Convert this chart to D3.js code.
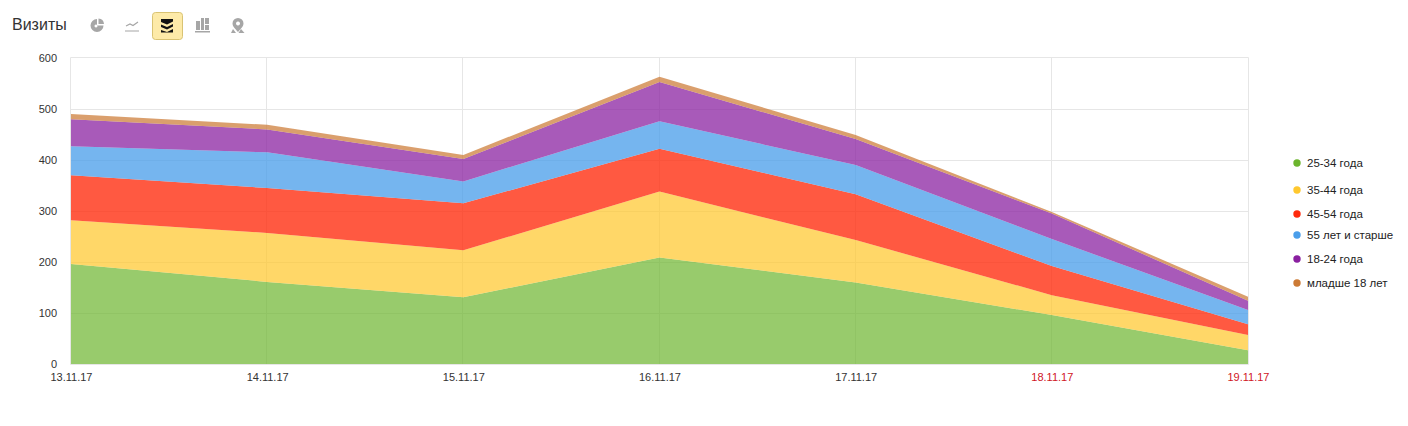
<!DOCTYPE html>
<html><head><meta charset="utf-8">
<script src="https://cdn.jsdelivr.net/npm/d3@7/dist/d3.min.js"></script>
<style>html,body{margin:0;padding:0;background:#fff}svg{display:block}text{font-family:"Liberation Sans",Arial,sans-serif}</style>
</head><body><svg id="c" width="1408" height="426"></svg>
<script>
const dates=["13.11.17","14.11.17","15.11.17","16.11.17","17.11.17","18.11.17","19.11.17"];
const weekend=["18.11.17","19.11.17"];
const yTicks=[0,100,200,300,400,500,600];
const seriesNames=["25-34 года","35-44 года","45-54 года","55 лет и старше","18-24 года","младше 18 лет"];
const s2534=[196,161,131,209,160,96,27];
const s3544=[86,96,92,129,83,39,30];
const s4554=[88,88,92,84,90,57,21];
const s55=[57,70,43,54,57,53,28];
const s1824=[53,45,44,77,51,50,18];
const s18=[10,9,8,10,8,3,8];
const colors=["#6cb52d","#ffc82e","#ff2a0c","#4a9eea","#8a20a0","#cc7a35"];
const areaOpacity=[.7,.72,.78,.76,.74,.72];
const legendY=[163,190,214,235,259,283];

const svg=d3.select("#c");
const x=d3.scalePoint().domain(dates).range([71,1248]);
const y=d3.scaleLinear().domain([0,600]).range([364,58]);
const grid="#e6e6e6";
const g=svg.append("g");
const hPos=d=>d===600?57.5:Math.round(y(d))+.5;
const vPos=d=>d===dates[dates.length-1]?1248.5:Math.round(x(d))-.5;
g.selectAll(".h").data(yTicks).join("line").attr("x1",70.5).attr("x2",1248.5)
 .attr("y1",hPos).attr("y2",hPos).attr("stroke",grid);
g.selectAll(".v").data(dates).join("line").attr("y1",57.5).attr("y2",364.5)
 .attr("x1",vPos).attr("x2",vPos).attr("stroke",grid);
const all=[s2534,s3544,s4554,s55,s1824,s18];
const rows=dates.map((d,i)=>{const r={date:d};seriesNames.forEach((n,k)=>r[n]=all[k][i]);return r;});
const stack=d3.stack().keys(seriesNames)(rows);
const area=d3.area().x(d=>x(d.data.date)).y0(d=>y(d[0])).y1(d=>y(d[1]));
g.selectAll(".a").data(stack).join("path").attr("d",area)
 .attr("fill",(d,i)=>colors[i]).attr("fill-opacity",(d,i)=>areaOpacity[i]);
g.selectAll(".yl").data(yTicks).join("text").attr("x",57).attr("y",d=>y(d)+4)
 .attr("text-anchor","end").attr("font-size",11).attr("fill","#333").text(d=>d);
g.selectAll(".xl").data(dates).join("text").attr("x",d=>x(d)+.5).attr("y",381)
 .attr("text-anchor","middle").attr("font-size",11)
 .attr("fill",d=>weekend.includes(d)?"#d0151f":"#333").text(d=>d);
const lg=g.selectAll(".l").data(seriesNames).join("g").attr("transform",(d,i)=>`translate(0,${legendY[i]})`);
lg.append("circle").attr("cx",1297).attr("cy",0).attr("r",3.7).attr("fill",(d,i)=>colors[i]);
lg.append("text").attr("x",1307).attr("y",4).attr("font-size",11.5).attr("fill","#222").text(d=>d);
svg.append("text").attr("x",12).attr("y",30).attr("font-size",16).attr("fill","#333").text("Визиты");
svg.append("rect").attr("x",152.5).attr("y",12.5).attr("width",30).attr("height",27).attr("rx",3)
 .attr("fill","#fdeaa8").attr("stroke","#d9c373");
const ic="#a6a6a6";
svg.append("path").attr("fill",ic).attr("fill-rule","evenodd")
 .attr("d","M97 19a6.5 6.5 0 1 0 6.5 6.5h-6.500zM98.500 18.500v5.500h5.500a6 6 0 0 0-5.500-5.500zM96 24.500a1.500 1.500 0 1 0 .01 0z");
svg.append("path").attr("fill","none").attr("stroke",ic).attr("stroke-width",1.2).attr("d","M126 26l4-2 3 1.500 5-3.500M125 31h14");
svg.append("path").attr("fill","#111")
 .attr("d","M161 19h12v2.500l-6 3-6-2.500zM161 24.500l6 2.500 6-3v2.500l-6 3-6-2.500zM161 30l6 2 6-3v3.500h-12z");
svg.append("path").attr("fill",ic)
 .attr("d","M196 21h4v9h-4zM201 18h3v12h-3zM205 18h4v6h-4zM205 25h4v5h-4zM195 31h15v1.500h-15z");
svg.append("path").attr("fill",ic).attr("fill-rule","evenodd")
 .attr("d","M238 18a5.500 5.500 0 0 1 5.500 5.500c0 3-3 5.500-5.500 8.500c-2.500-3-5.500-5.500-5.500-8.500a5.500 5.500 0 0 1 5.500-5.500zM238 21.500a2 2 0 1 0 .01 0zM233 29l-2 4h5zM241 29l-2.500 4h6z");
</script></body></html>
